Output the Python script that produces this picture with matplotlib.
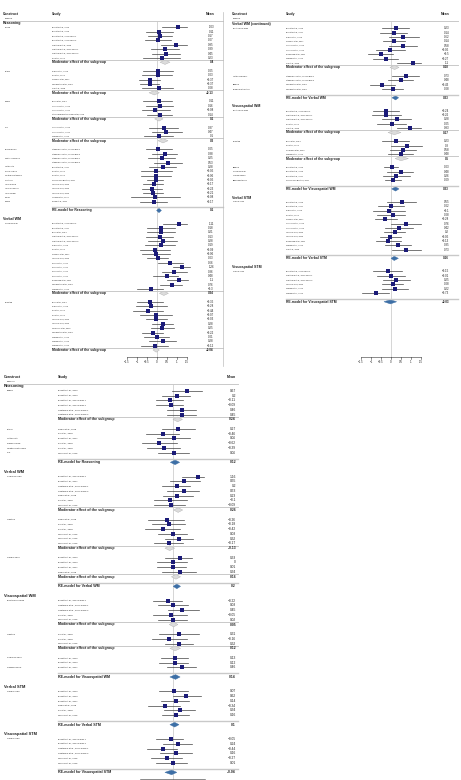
import matplotlib
matplotlib.use("Agg")
import matplotlib.pyplot as plt
from matplotlib.patches import Polygon

plt.rcParams['font.family'] = ['Liberation Sans', 'DejaVu Sans']

W, H = 461, 780
MOD = "Moderator effect of the subgroup"
N = None

# ---------------- panel A (top left) ----------------
a_labels = (["Reasoning"]
            + ["Cubed"] + [""] * 7 + ["", ""]
            + ["RAPM"] + [""] * 4 + ["", ""]
            + ["RSPM"] + [""] * 3 + ["", ""]
            + ["LPS"] + [""] * 2 + ["", ""]
            + ["Block design", "", "Matrix reasoning", "", "Letter sets", "Paper folding",
               "Spatial relationship", "Locations", "INI − Figural", "INI − Numerical",
               "INI − Verbal", "Raven", "RCPM"]
            + ["", "", ""]
            + ["Verbal WM"]
            + ["Complex span"] + [""] * 15 + ["", ""]
            + ["Updating"] + [""] * 10 + [""])

a_studies = ([""]
             + ["Bonetta et al., 2010", "Bonetta et al., 2013", "Bonetta et al., 2014 − Exp 1",
                "Bonetta et al., 2014 − Exp 2", "Cantarella et al., 2016",
                "Cantarella et al., 2017 − Exp 1", "Cantarella et al., 2017 − Exp 2",
                "Du et al., 2018", MOD, ""]
             + ["Dahlin et al., 2008", "Du et al., 2018", "Gropper et al., 2017",
                "von Bastian et al., 2013", "Xin et al., 2018", MOD, ""]
             + ["Buck et al., 2014", "Hancock et al., 2013", "Hancock et al., 2015",
                "Stijn Lambrechts & Trompetter, 2016", MOD, ""]
             + ["Hancock et al., 2013", "Hancock et al., 2015", "Wacker et al., 2016", MOD, ""]
             + ["Stepankova et al., 2013 − Exp 1", "Stepankova et al., 2013 − Exp 2",
                "Stepankova et al., 2013 − Exp 1", "Stepankova et al., 2013 − Exp 2",
                "Bonetta et al., 2017", "Du et al., 2018", "Du et al., 2018",
                "Guye & von Bastian, 2017", "Lange & Süß, 2015", "Lange & Süß, 2015",
                "Lange & Süß, 2015", "Heinzel et al., 2017", "Zinke et al., 2011"]
             + ["", "RE-model for Reasoning", ""]
             + [""]
             + ["Bonetta et al., 2014 − Exp 2", "Bonetta et al., 2017", "Buck et al., 2014",
                "Cantarella et al., 2017 − Exp 1", "Cantarella et al., 2017 − Exp 2",
                "Dahlin et al., 2008", "Du et al., 2018", "Gropper et al., 2017",
                "Lange & Süß, 2015", "Payne et al., 2014", "Payne et al., 2014",
                "Payne et al., 2014", "Payne et al., 2015", "Richmond et al., 2011",
                "von Bastian et al., 2013", "Wacker et al., 2016", MOD, ""]
             + ["Buck et al., 2014", "Dahlin et al., 2008", "Du et al., 2018", "Du et al., 2018",
                "Lange & Süß, 2015", "Lange & Süß, 2015", "Sprenger et al., 2013",
                "von Bastian et al., 2013", "Wacker et al., 2016", "Wacker et al., 2016",
                "Wacker et al., 2016", MOD])

a_mean = ([N]
          + [1.03, 0.11, 0.17, 0.07, 0.95, 0.39, 0.45, 0.23, 0.4, N]
          + [0.05, 0.03, -0.37, -0.37, 0.08, -0.13, N]
          + [0.11, 0.16, -0.08, 0.14, 0.1, N]
          + [0.37, 0.47, 0.1, 0.3, N]
          + [0.05, 0.38, 0.25, 0.53, 0.28, -0.05, -0.06, -0.05, -0.17, -0.23, -0.21, -0.08, -0.17]
          + [N, 0.1, N]
          + [N]
          + [1.11, 0.18, 0.21, 0.13, 0.28, 0.19, -0.09, -0.06, 0.03, 0.66, 1.26, 0.86, 0.48,
             1.1, 0.76, -0.3, 0.34, N]
          + [-0.35, -0.28, -0.44, -0.07, -0.03, 0.28, 0.25, -0.22, 0.01, 0.28, -0.12, -0.04])

a_lo = ([N]
        + [0.27, -0.57, -0.43, -0.6, 0.18, -0.32, -0.27, -0.68, 0.15, N]
        + [-0.72, -0.77, -0.88, -0.85, -0.77, -0.4, N]
        + [-0.68, -0.55, -0.77, -0.52, -0.12, N]
        + [-0.38, -0.27, -0.65, 0.05, N]
        + [-0.57, -0.27, -0.43, -0.15, -0.38, -0.82, -0.82, -0.52, -0.72, -0.77, -0.72, -1.32, -0.85]
        + [N, -0.02, N]
        + [N]
        + [0.32, -0.52, -0.52, -0.57, -0.43, -0.6, -0.85, -0.77, -0.52, 0.07, 0.82, 0.23, -0.22,
           0.48, 0.15, -1.02, 0.12, N]
        + [-1.02, -1.07, -1.18, -0.85, -0.57, -0.23, -0.32, -0.77, -0.65, -0.38, -0.8, -0.2])

a_hi = ([N]
        + [1.48, 0.78, 0.73, 0.68, 1.48, 1.1, 1.15, 1.15, 0.65, N]
        + [0.82, 0.73, 0.15, 0.12, 0.82, 0.12, N]
        + [0.73, 0.82, 0.65, 0.73, 0.3, N]
        + [1.07, 1.23, 0.82, 0.55, N]
        + [0.73, 1.02, 0.9, 1.23, 0.93, 0.73, 0.68, 0.32, 0.32, 0.27, 0.32, 1.15, 0.48]
        + [N, 0.22, N]
        + [N]
        + [1.48, 0.9, 0.9, 0.82, 0.98, 0.9, 0.65, 0.65, 0.57, 1.32, 1.65, 1.48, 1.07,
           1.57, 1.23, 0.32, 0.57, N]
        + [0.28, 0.48, 0.32, 0.73, 0.48, 0.82, 0.85, 0.32, 0.62, 0.93, 0.53, 0.12])

# ---------------- panel B (top right) ----------------
b_labels = (["Verbal WM (continued)"]
            + ["Best simple span"] + [""] * 8 + ["", ""]
            + ["Letter − Number", "", "Binding", "Binding integration"]
            + ["", "", ""]
            + ["Visuospatial WM"]
            + ["Best simple span"] + [""] * 4 + ["", ""]
            + ["Updating"] + [""] * 3 + ["", ""]
            + ["Binding", "Complex span", "Jigsaw puzzle", "Brown−Peterson"]
            + ["", "", ""]
            + ["Verbal STM"]
            + ["Simple span"] + [""] * 11
            + ["", "", ""]
            + ["Visuospatial STM"]
            + ["Simple span"] + [""] * 5
            + ["", ""])

b_studies = ([""]
             + ["Bonetta et al., 2013", "Bonetta et al., 2017", "Dahlin et al., 2008",
                "Gropper et al., 2017", "Hancock et al., 2013", "Hancock et al., 2016",
                "Richmond et al., 2011", "Wacker et al., 2016", "Xin et al., 2019", MOD, ""]
             + ["Stepankova et al., 2013 − Exp 1", "Stepankova et al., 2013 − Exp 2",
                "von Bastian et al., 2013", "von Bastian et al., 2013"]
             + ["", "RE-model for Verbal WM", ""]
             + [""]
             + ["Bonetta et al., 2014 − Exp 2", "Cantarella et al., 2017 − Exp 1",
                "Cantarella et al., 2017 − Exp 2", "Du et al., 2018", "Xin et al., 2019", MOD, ""]
             + ["Buck et al., 2014", "Du et al., 2018", "Salminen et al., 2012",
                "Wacker et al., 2016", MOD, ""]
             + ["Bonetta et al., 2010", "Bonetta et al., 2013", "Bonetta et al., 2017",
                "Guye & von Bastian, 2017"]
             + ["", "RE-model for Visuospatial WM", ""]
             + [""]
             + ["Bonetta et al., 2013", "Bonetta et al., 2017", "Dahlin et al., 2008",
                "Du et al., 2018", "Gropper et al., 2017", "Hancock et al., 2013",
                "Hancock et al., 2016", "Lange & Süß, 2015", "Lange & Süß, 2015",
                "Richmond et al., 2011", "Wacker et al., 2016", "Xin et al., 2019"]
             + ["", "RE-model for Verbal STM", ""]
             + [""]
             + ["Bonetta et al., 2014 − Exp 2", "Cantarella et al., 2017 − Exp 1",
                "Cantarella et al., 2017 − Exp 2", "Lange & Süß, 2015",
                "Wacker et al., 2016", "Wacker et al., 2016"]
             + ["", "RE-model for Visuospatial STM"])

b_mean = ([N]
          + [0.23, 0.14, 0.62, 0.14, 0.58, -0.05, -0.5, -0.27, 1.1, 0.18, N]
          + [0.73, 0.48, -0.43, 0.08]
          + [N, 0.23, N]
          + [N]
          + [-0.24, -0.26, 0.28, 0.05, 0.93, 0.17, N]
          + [0.23, 0.8, 0.58, 0.48, 0.5, N]
          + [0.03, 0.48, 0.26, 0.09]
          + [N, 0.23, N]
          + [N]
          + [0.55, 0.02, -0.1, 0.08, -0.28, 0.76, 0.42, 0.2, -0.05, -0.13, 0.35, 0.73]
          + [N, 0.16, N]
          + [N]
          + [-0.15, -0.01, 0.25, 0.08, 0.22, -0.73]
          + [N, -0.03])

b_lo = ([N]
        + [-0.47, -0.55, -0.1, -0.38, -0.1, -0.77, -1.13, -0.92, 0.28, -0.05, N]
        + [0.07, -0.13, -1.05, -0.47]
        + [N, 0.05, N]
        + [N]
        + [-0.92, -0.97, -0.43, -0.72, 0.32, -0.15, N]
        + [-0.47, -0.02, -0.05, -0.13, 0.2, N]
        + [-0.35, -0.22, -0.42, -0.3]
        + [N, 0.03, N]
        + [N]
        + [-0.18, -0.63, -0.88, -0.72, -0.8, 0.0, -0.3, -0.33, -0.55, -0.77, -0.3, 0.03]
        + [N, 0.0, N]
        + [N]
        + [-0.88, -0.72, -0.42, -0.47, -0.43, -1.43]
        + [N, -0.35])

b_hi = ([N]
        + [0.9, 0.82, 1.4, 0.7, 1.32, 0.7, 0.12, 0.37, 1.5, 0.4, N]
        + [1.4, 1.12, 0.2, 0.58]
        + [N, 0.38, N]
        + [N]
        + [0.42, 0.48, 0.98, 0.73, 1.48, 0.5, N]
        + [0.9, 1.53, 1.23, 1.08, 0.87, N]
        + [0.37, 1.12, 0.95, 0.48]
        + [N, 0.4, N]
        + [N]
        + [1.23, 0.65, 0.7, 0.7, 0.28, 1.48, 1.12, 0.7, 0.48, 0.48, 0.98, 1.48]
        + [N, 0.37, N]
        + [N]
        + [0.53, 0.7, 0.95, 0.62, 0.87, -0.08]
        + [N, 0.28])

# ---------------- panel C (bottom) ----------------
c_labels = (["Reasoning"]
            + ["Cubed"] + [""] * 5 + ["", ""]
            + ["RAPM", "", "Letter sets", "Paper folding", "Spatial relationship", "LPS"]
            + ["", "", ""]
            + ["Verbal WM"]
            + ["Complex span"] + [""] * 6 + ["", ""]
            + ["Updating"] + [""] * 5 + ["", ""]
            + ["Simple Span"] + [""] * 3 + ["", ""]
            + ["", ""]
            + ["Visuospatial WM"]
            + ["Best simple span"] + [""] * 4 + ["", ""]
            + ["Updating"] + [""] * 2 + ["", ""]
            + ["Complex Span", "", "Jigsaw Puzzle"]
            + ["", "", ""]
            + ["Verbal STM"]
            + ["Simple span"] + [""] * 5
            + ["", "", ""]
            + ["Visuospatial STM"]
            + ["Simple span"] + [""] * 5
            + ["", ""])

c_studies = ([""]
             + ["Bonetta et al., 2010", "Bonetta et al., 2013", "Bonetta et al., 2014 − Exp 1",
                "Bonetta et al., 2014 − Exp 2", "Cantarella et al., 2017 − Exp 1",
                "Cantarella et al., 2017 − Exp 2", MOD, ""]
             + ["Dahlin et al., 2008", "Du et al., 2018", "Bonetta et al., 2017",
                "Du et al., 2018", "Du et al., 2018", "Wacker et al., 2016"]
             + ["", "RE-model for Reasoning", ""]
             + [""]
             + ["Bonetta et al., 2014 − Exp 2", "Bonetta et al., 2017",
                "Cantarella et al., 2017 − Exp 1", "Cantarella et al., 2017 − Exp 2",
                "Dahlin et al., 2008", "Du et al., 2018", "Wacker et al., 2016", MOD, ""]
             + ["Dahlin et al., 2008", "Du et al., 2018", "Du et al., 2018",
                "Wacker et al., 2016", "Wacker et al., 2016", "Wacker et al., 2016", MOD, ""]
             + ["Bonetta et al., 2010", "Bonetta et al., 2013", "Bonetta et al., 2017",
                "Dahlin et al., 2008", MOD, ""]
             + ["RE-model for Verbal WM", ""]
             + [""]
             + ["Bonetta et al., 2014 − Exp 2", "Cantarella et al., 2017 − Exp 1",
                "Cantarella et al., 2017 − Exp 2", "Du et al., 2018", "Wacker et al., 2016", MOD, ""]
             + ["Du et al., 2018", "Du et al., 2018", "Wacker et al., 2016", MOD, ""]
             + ["Bonetta et al., 2010", "Bonetta et al., 2013", "Bonetta et al., 2017"]
             + ["", "RE-model for Visuospatial WM", ""]
             + [""]
             + ["Bonetta et al., 2010", "Bonetta et al., 2013", "Bonetta et al., 2017",
                "Dahlin et al., 2008", "Du et al., 2018", "Wacker et al., 2016"]
             + ["", "RE-model for Verbal STM", ""]
             + [""]
             + ["Bonetta et al., 2014 − Exp 1", "Bonetta et al., 2014 − Exp 2",
                "Cantarella et al., 2017 − Exp 1", "Cantarella et al., 2017 − Exp 2",
                "Wacker et al., 2016", "Wacker et al., 2016"]
             + ["", "RE-model for Visuospatial STM"])

c_mean = ([N]
          + [0.67, 0.2, -0.11, -0.09, 0.46, 0.45, 0.24, N]
          + [0.27, -0.46, 0.06, -0.62, -0.39, 0.06]
          + [N, 0.12, N]
          + [N]
          + [1.16, 0.55, 0.2, 0.53, 0.23, -0.1, -0.09, 0.26, N]
          + [-0.26, -0.18, -0.42, 0.03, 0.32, -0.17, -0.13, N]
          + [0.33, 0.0, 0.01, 0.34, 0.16, N]
          + [0.2, N]
          + [N]
          + [-0.22, 0.03, 0.45, -0.05, 0.02, 0.05, N]
          + [0.31, -0.16, 0.32, 0.12, N]
          + [0.13, 0.12, 0.46]
          + [N, 0.14, N]
          + [N]
          + [0.07, 0.62, 0.14, -0.34, 0.34, 0.16]
          + [N, 0.1, N]
          + [N]
          + [-0.05, 0.24, -0.44, 0.16, -0.27, 0.01]
          + [N, -0.04])

c_lo = ([N]
        + [-0.04, -0.48, -0.78, -0.78, -0.25, -0.27, 0.02, N]
        + [-0.5, -1.23, -0.73, -1.39, -1.18, -0.65]
        + [N, -0.1, N]
        + [N]
        + [0.42, -0.12, -0.5, -0.27, -0.45, -0.85, -0.85, 0.05, N]
        + [-1.11, -0.96, -1.27, -0.65, -0.35, -0.85, -0.35, N]
        + [-0.33, -0.7, -0.73, -0.47, -0.05, N]
        + [0.03, N]
        + [N]
        + [-0.9, -0.65, -0.2, -0.9, -0.65, -0.15, N]
        + [-0.6, -0.96, -0.35, -0.12, N]
        + [-0.55, -0.6, -0.25]
        + [N, -0.12, N]
        + [N]
        + [-0.6, 0.0, -0.55, -1.11, -0.38, -0.5]
        + [N, -0.12, N]
        + [N]
        + [-0.78, -0.42, -1.18, -0.58, -1.0, -0.76]
        + [N, -0.35])

c_hi = ([N]
        + [1.35, 0.8, 0.5, 0.5, 1.1, 1.1, 0.46, N]
        + [1.04, 0.3, 0.8, 0.19, 0.35, 0.78]
        + [N, 0.33, N]
        + [N]
        + [1.45, 1.27, 0.82, 1.22, 0.95, 0.65, 0.58, 0.47, N]
        + [0.55, 0.58, 0.35, 0.65, 0.95, 0.47, 0.1, N]
        + [0.92, 0.65, 0.62, 1.1, 0.37, N]
        + [0.37, N]
        + [N]
        + [0.42, 0.7, 1.23, 0.65, 0.65, 0.25, N]
        + [1.22, 0.65, 0.96, 0.37, N]
        + [0.73, 0.7, 1.1]
        + [N, 0.35, N]
        + [N]
        + [0.7, 1.3, 0.78, 0.35, 1.04, 0.78]
        + [N, 0.3, N]
        + [N]
        + [0.5, 0.88, 0.2, 0.88, 0.42, 0.65]
        + [N, 0.2])

TICKS = [-1.5, -1, -0.5, 0, 0.5, 1, 1.5]
TICK_LABELS = ["−1.5", "−1", "−0.5", "0", "0.5", "1", "1.5"]

TXT = '#222222'
NAVY = '#1b1b78'
BLUE = '#3d6fa6'
GREY = '#c9c9c9'


def fmt(v):
    s = f"{v:.2f}".rstrip('0').rstrip('.')
    if s == '-0':
        s = '0'
    return s.replace('-', '−')


def forest(fig, rect, x0, xs, y0, ys, k, labels, studies, means, los, his,
           cols, header_py, axis_py, tick_text=True):
    """Draw one forest panel. rect/cols/header_py are in figure pixels."""
    L, T, Wp, Hp = rect
    ax = fig.add_axes([L / W, 1 - (T + Hp) / H, Wp / W, Hp / H])
    ax.set_xlim((L - x0) / xs, (L + Wp - x0) / xs)
    ax.set_ylim((T + Hp - y0) / ys, (T - y0) / ys)
    ax.axis('off')

    def X(p):
        return (p - x0) / xs

    def Y(p):
        return (p - y0) / ys

    c_con, c_meas, c_study, c_mean, c_end = cols

    # header
    ax.text(X(c_con), Y(header_py[0]), "Construct", fontsize=2.4 * k,
            fontweight='bold', color=TXT, va='center')
    ax.text(X(c_meas), Y(header_py[1]), "Measure", fontsize=1.5 * k, color=TXT, va='center')
    ax.text(X(c_study), Y(header_py[0]), "Study", fontsize=2.4 * k,
            fontweight='bold', color=TXT, va='center')
    ax.text(X(c_mean), Y(header_py[0]), "Mean", fontsize=2.4 * k,
            fontweight='bold', color=TXT, va='center', ha='right')
    ax.plot([X(c_con), X(c_end)], [Y(header_py[2])] * 2, color=GREY, lw=0.7,
            clip_on=False)

    # reference line at zero
    ax.plot([0, 0], [-0.5, Y(axis_py)], color='#cfcfcf', lw=0.6, zorder=0, clip_on=False)

    for i, (lab, st, m, lo, hi) in enumerate(zip(labels, studies, means, los, his)):
        if m is None:
            if lab:
                ax.text(X(c_con), i, lab, fontsize=2.6 * k, fontweight='bold',
                        color=TXT, va='center')
            continue
        if st == MOD:
            ax.plot([X(c_study), X(c_end)], [i - 0.55] * 2, color=GREY, lw=0.7, clip_on=False)
            ax.add_patch(Polygon([(lo, i), (m, i - 0.5), (hi, i), (m, i + 0.5)],
                                 closed=True, fc='#dcdcdc', ec='#b0b0b0', lw=0.3))
            ax.text(X(c_study), i, st, fontsize=2.4 * k, fontweight='bold',
                    color=TXT, va='center')
            ax.text(X(c_mean), i, fmt(m), fontsize=2.2 * k, fontweight='bold',
                    color=TXT, va='center', ha='right')
        elif st.startswith("RE-model"):
            ax.plot([X(c_study), X(c_end)], [i - 0.75] * 2, color=GREY, lw=1.0, clip_on=False)
            ax.add_patch(Polygon([(lo, i), (m, i - 0.5), (hi, i), (m, i + 0.5)],
                                 closed=True, fc=BLUE, ec=BLUE, lw=0.3))
            ax.text(X(c_study), i, st, fontsize=2.4 * k, fontweight='bold',
                    color=TXT, va='center')
            ax.text(X(c_mean), i, fmt(m), fontsize=2.2 * k, fontweight='bold',
                    color=TXT, va='center', ha='right')
        else:
            if lab:
                ax.text(X(c_meas), i, lab, fontsize=1.45 * k, color=TXT, va='center')
            ax.text(X(c_study), i, st, fontsize=1.45 * k, color=TXT, va='center')
            ax.plot([lo, hi], [i, i], color='#404040', lw=0.5)
            ax.plot([m], [i], marker='s', ms=2.4 * k, color=NAVY, mec=NAVY, mew=0)
            ax.text(X(c_mean), i, fmt(m), fontsize=2.1 * k, color=TXT,
                    va='center', ha='right')

    # x axis
    ya = Y(axis_py)
    ax.plot([TICKS[0], TICKS[-1]], [ya, ya], color='#333333', lw=0.4, clip_on=False)
    if tick_text:
        for t, tl in zip(TICKS, TICK_LABELS):
            ax.plot([t, t], [ya, ya + 1.5 / ys], color='#333333', lw=0.4, clip_on=False)
            ax.text(t, ya + 2.6 / ys, tl, fontsize=2.1 * k, color=TXT,
                    ha='center', va='top')
    return ax


fig = plt.figure(figsize=(W / 100, H / 100), dpi=100)

ax_a = forest(fig, (0, 0, 230, 372), 157, 20, 23, 4.36, 1.0,
              a_labels, a_studies, a_mean, a_lo, a_hi,
              (3, 5, 52, 214, 223), (14, 18.5, 21), 357)
# thin separator on the right of panel A
ax_a.plot([(223 - 157) / 20] * 2, [(12 - 23) / 4.36, (366 - 23) / 4.36],
          color='#bdbdbd', lw=0.5, clip_on=False)

forest(fig, (230, 0, 231, 372), 391, 20, 24, 4.34, 1.0,
       b_labels, b_studies, b_mean, b_lo, b_hi,
       (231.5, 233, 286, 449, 458), (14, 18.5, 21), 357)

# bottom panel: its axis sits at the very bottom edge, labels fall outside the picture
forest(fig, (0, 372, 240, 408), 172.5, 21.7, 386, 4.77, 1.1,
       c_labels, c_studies, c_mean, c_lo, c_hi,
       (4, 7, 58, 236, 238), (377, 381, 383.5), 778.5, tick_text=False)

fig.savefig("out.png", dpi=100)
